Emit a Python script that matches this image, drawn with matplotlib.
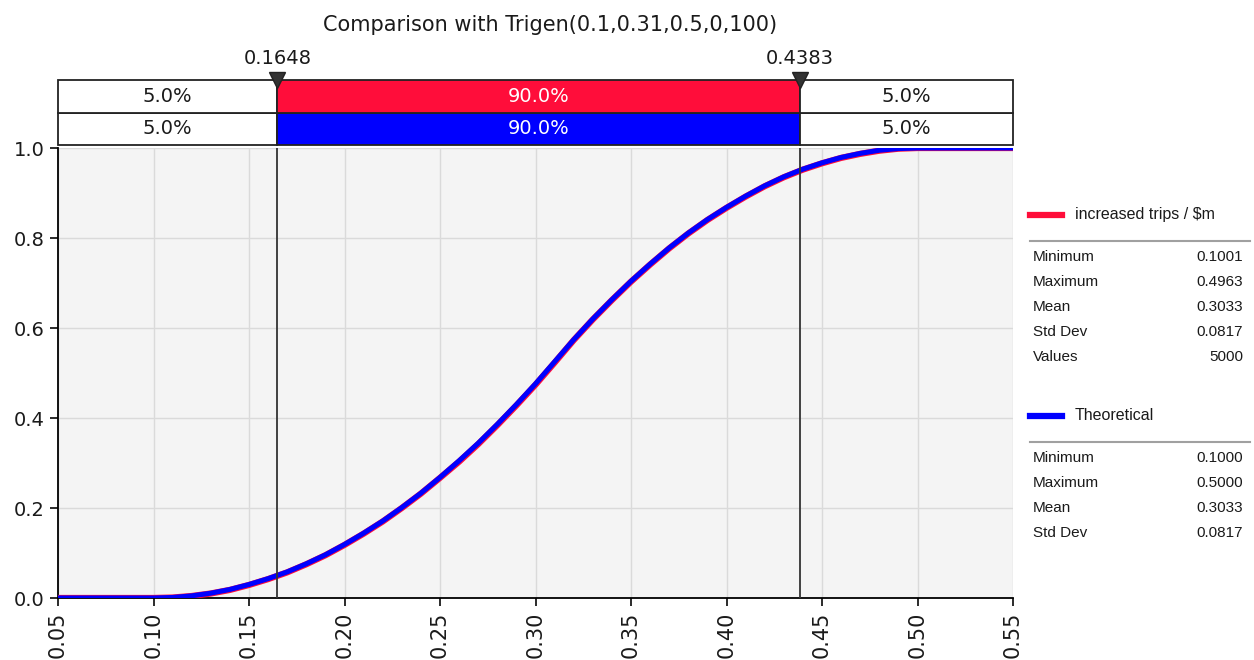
import matplotlib
matplotlib.use("Agg")
import matplotlib.pyplot as plt
from matplotlib.ticker import FormatStrFormatter

plt.rcParams['font.family'] = ['DejaVu Sans']

# cumulative curve
xs = [0.05, 0.06, 0.07, 0.08, 0.09, 0.10, 0.11, 0.12, 0.13, 0.14, 0.15, 0.16, 0.17,
      0.18, 0.19, 0.20, 0.21, 0.22, 0.23, 0.24, 0.25, 0.26, 0.27, 0.28, 0.29, 0.30,
      0.31, 0.32, 0.33, 0.34, 0.35, 0.36, 0.37, 0.38, 0.39, 0.40, 0.41, 0.42, 0.43,
      0.44, 0.45, 0.46, 0.47, 0.48, 0.49, 0.50, 0.51, 0.52, 0.53, 0.54, 0.55]
theo = [0, 0, 0, 0, 0, 0, 0.0012, 0.0048, 0.0107, 0.019, 0.030, 0.043, 0.058,
        0.076, 0.096, 0.119, 0.144, 0.171, 0.201, 0.233, 0.268, 0.305, 0.344, 0.386,
        0.430, 0.476, 0.525, 0.574, 0.620, 0.663, 0.704, 0.742, 0.778, 0.811, 0.841,
        0.868, 0.893, 0.916, 0.936, 0.953, 0.967, 0.979, 0.988, 0.995, 0.9987, 1.0,
        1.0, 1.0, 1.0, 1.0, 1.0]
sim = [0, 0, 0, 0, 0, 0, 0.0010, 0.0044, 0.0100, 0.018, 0.029, 0.042, 0.057,
       0.075, 0.095, 0.118, 0.143, 0.170, 0.200, 0.232, 0.267, 0.303, 0.342, 0.384,
       0.428, 0.474, 0.523, 0.573, 0.619, 0.662, 0.703, 0.741, 0.777, 0.810, 0.840,
       0.867, 0.892, 0.915, 0.935, 0.952, 0.966, 0.978, 0.987, 0.994, 0.9985, 1.0,
       1.0, 1.0, 1.0, 1.0, 1.0]

p_lo, p_hi = 0.1648, 0.4383
sim_pct = ["5.0%", "90.0%", "5.0%"]
theo_pct = ["5.0%", "90.0%", "5.0%"]

title = "Comparison with Trigen(0.1,0.31,0.5,0,100)"
sim_name = "increased trips / $m"
theo_name = "Theoretical"
sim_stats = [("Minimum", "0.1001"), ("Maximum", "0.4963"), ("Mean", "0.3033"),
             ("Std Dev", "0.0817"), ("Values", "5000")]
theo_stats = [("Minimum", "0.1000"), ("Maximum", "0.5000"), ("Mean", "0.3033"),
              ("Std Dev", "0.0817")]

RED = "#ff0d3a"
BLUE = "#0000ff"
TXT = "#1a1a1a"
W, H = 1254, 660
FS = 14

fig = plt.figure(figsize=(W / 100, H / 100), dpi=100)

# main cdf plot
ax = fig.add_axes([58 / W, 62 / H, 955 / W, 450 / H])
ax.set_facecolor("#f4f4f4")
ax.plot(xs, sim, color=RED, lw=4.5, solid_capstyle="butt", zorder=3)
ax.plot(xs, theo, color=BLUE, lw=3.6, solid_capstyle="butt", zorder=4)
ax.axvline(p_lo, color="#333333", lw=1.3, zorder=5)
ax.axvline(p_hi, color="#333333", lw=1.3, zorder=5)
ax.set_xlim(0.05, 0.55)
ax.set_ylim(0, 1)
ax.set_xticks([0.05 + 0.05 * i for i in range(11)])
ax.set_yticks([0.2 * i for i in range(6)])
ax.xaxis.set_major_formatter(FormatStrFormatter("%.2f"))
ax.yaxis.set_major_formatter(FormatStrFormatter("%.1f"))
ax.grid(True, color="#dadada", lw=1)
ax.set_axisbelow(True)
for s in ["top", "right"]:
    ax.spines[s].set_visible(False)
for s in ["left", "bottom"]:
    ax.spines[s].set_linewidth(1.3)
ax.tick_params(axis="x", labelrotation=90, labelsize=FS + 1, colors=TXT, length=6, width=1.3)
ax.tick_params(axis="y", labelsize=FS, colors=TXT, length=6, width=1.3)

# percentile bars above
bax = fig.add_axes([58 / W, (H - 145) / H, 955 / W, 65 / H], sharex=ax)
bax.set_ylim(0, 2)
bax.axis("off")
edges = [0.05, p_lo, p_hi, 0.55]
lefts = edges[:-1]
widths = [edges[i + 1] - edges[i] for i in range(3)]
for row, (pcts, col) in enumerate([(theo_pct, BLUE), (sim_pct, RED)]):
    colors = ["white", col, "white"]
    bax.barh([row + 0.5] * 3, widths, left=lefts, height=1, color=colors,
             edgecolor="#222222", lw=1.3, clip_on=False)
    for i in range(3):
        bax.text(lefts[i] + widths[i] / 2, row + 0.5, pcts[i], ha="center", va="center",
                 fontsize=FS, color="white" if i == 1 else TXT)
for p in (p_lo, p_hi):
    bax.plot([p], [2.0], marker="v", color="#333333", markersize=11, clip_on=False,
             zorder=6, markeredgecolor="#222222")
    bax.annotate("%.4f" % p, (p, 2.0), xytext=(0, 9), textcoords="offset points",
                 ha="center", va="bottom", fontsize=FS, color=TXT)

fig.text(550 / W, 1 - 25 / H, title, ha="center", va="center", fontsize=FS + 1, color=TXT)

# legend with statistics
lax = fig.add_axes([0, 0, 1, 1])
lax.set_xlim(0, W)
lax.set_ylim(H, 0)
lax.axis("off")

LF = ["Liberation Sans", "DejaVu Sans"]


def legend_block(y0, name, col, stats):
    lax.plot([1030, 1062], [y0, y0], color=col, lw=4.5)
    lax.text(1075, y0, name, ha="left", va="center", fontsize=11.5, color=TXT, family=LF)
    lax.plot([1030, 1250], [y0 + 26, y0 + 26], color="#a0a0a0", lw=1.5)
    for k, (lab, val) in enumerate(stats):
        yy = y0 + 42 + 25 * k
        lax.text(1033, yy, lab, ha="left", va="center", fontsize=11, color=TXT, family=LF)
        lax.text(1243, yy, val, ha="right", va="center", fontsize=11, color=TXT, family=LF)


legend_block(215, sim_name, RED, sim_stats)
legend_block(416, theo_name, BLUE, theo_stats)

fig.savefig("out.png", dpi=100)
